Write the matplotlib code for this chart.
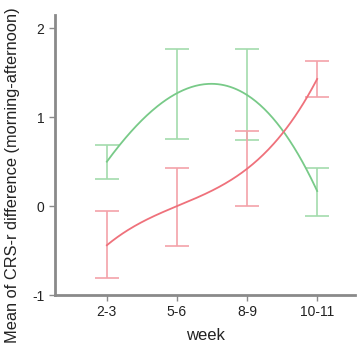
import numpy as np
import matplotlib
matplotlib.use("Agg")
import matplotlib.pyplot as plt

plt.rcParams['font.family'] = ['Liberation Sans', 'DejaVu Sans']

weeks = ["2-3", "5-6", "8-9", "10-11"]
green_mean = [0.50, 1.27, 1.25, 0.17]
green_lo = [0.30, 0.75, 0.74, -0.11]
green_hi = [0.69, 1.77, 1.77, 0.43]
red_mean = [-0.44, 0.00, 0.42, 1.43]
red_lo = [-0.81, -0.45, 0.00, 1.23]
red_hi = [-0.06, 0.43, 0.85, 1.63]

x = np.arange(1, len(weeks) + 1)

fig = plt.figure(figsize=(3.58, 3.56), dpi=100)
ax = fig.add_axes([0.1536, 0.1713, 0.838, 0.7866])

series = [
    (green_mean, green_lo, green_hi, "#78ca88", "#a3dbad"),
    (red_mean, red_lo, red_hi, "#ef717b", "#f4a2a9"),
]
xs = np.linspace(1, 4, 200)
for mean, lo, hi, c_line, c_err in series:
    mean = np.array(mean)
    yerr = [mean - np.array(lo), np.array(hi) - mean]
    ax.errorbar(x, mean, yerr=yerr, fmt="none", ecolor=c_err, elinewidth=1.2,
                capsize=8.5, capthick=1.2)
    # smooth interpolation line through the means
    coef = np.polyfit(x, mean, 3)
    ax.plot(xs, np.polyval(coef, xs), color=c_line, lw=1.3)

ax.set_xlim(0.26, 4.54)
ax.set_ylim(-1, 2.15)
ax.set_xticks(x)
ax.set_xticklabels(weeks)
ax.set_yticks([-1, 0, 1, 2])
ax.set_yticklabels(["-1", "0", "1", "2"])
for s in ["top", "right"]:
    ax.spines[s].set_visible(False)
for s in ["left", "bottom"]:
    ax.spines[s].set_color("#8a8a8a")
    ax.spines[s].set_linewidth(2)
ax.tick_params(colors="#8a8a8a", length=4, width=1, labelsize=10, labelcolor="#222222")
ax.set_xlabel("week", fontsize=12, color="#222222", labelpad=6)
fig.text(0.036, 0.508, "Mean of CRS-r difference (morning-afternoon)", fontsize=11.8,
         color="#222222", rotation=90, ha="center", va="center")

fig.savefig("out.png", dpi=100)
